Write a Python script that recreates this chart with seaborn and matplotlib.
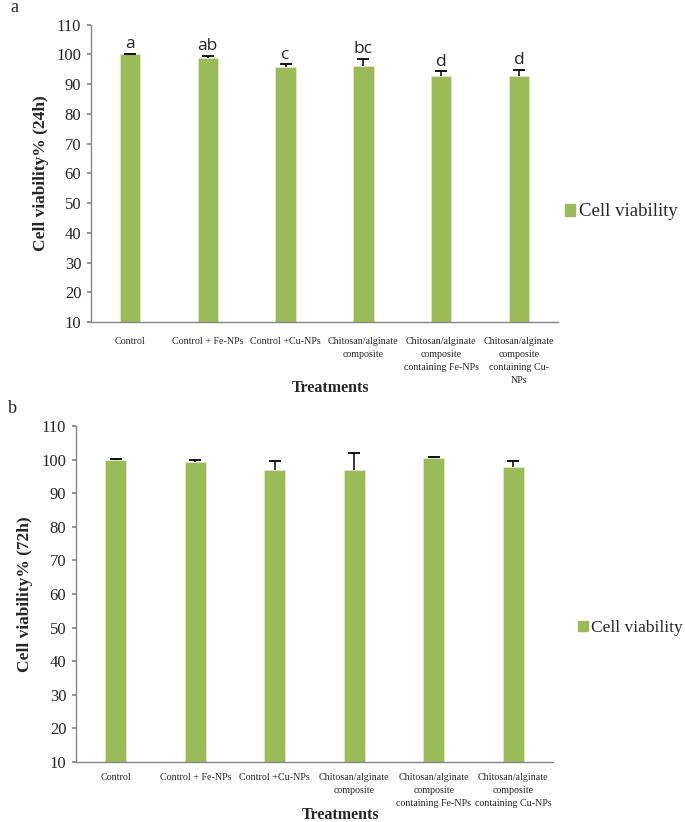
import matplotlib
matplotlib.use("Agg")
import matplotlib.pyplot as plt
import matplotlib.patches as mpatches
import numpy as np
import pandas as pd
import seaborn as sns

sns.set_theme(style="white")
plt.rcParams["font.family"] = ["Liberation Serif", "DejaVu Serif"]

BAR_COLOR = "#9BBB59"
AXIS_COLOR = "#868686"

# panel a (24 h)
labels_a = [
    "Control", "Control + Fe-NPs", "Control +Cu-NPs",
    "Chitosan/alginate\ncomposite",
    "Chitosan/alginate\ncomposite\ncontaining Fe-NPs",
    "Chitosan/alginate\ncomposite\ncontaining Cu-\nNPs",
]
viab_24h = [100.0, 98.9, 95.8, 96.1, 92.9, 92.6]
err_24h = [0.2, 0.7, 0.9, 2.5, 1.4, 2.3]
letters_24h = ["a", "ab", "c", "bc", "d", "d"]

# panel b (72 h)
labels_b = [
    "Control", "Control + Fe-NPs", "Control +Cu-NPs",
    "Chitosan/alginate\ncomposite",
    "Chitosan/alginate\ncomposite\ncontaining Fe-NPs",
    "Chitosan/alginate\ncomposite\ncontaining Cu-NPs",
]
viab_72h = [100.0, 99.4, 97.0, 96.8, 100.6, 97.8]
err_72h = [0.15, 0.6, 2.7, 5.1, 0.3, 1.8]

W, H = 685, 822


def px_axes(fig, left, right, top, bottom):
    return fig.add_axes([left / W, 1 - bottom / H, (right - left) / W, (bottom - top) / H])


def panel(ax, labels, vals, errs, ylabel, label_off):
    df = pd.DataFrame({"treatment": labels, "value": vals})
    sns.barplot(data=df, x="treatment", y="value", color=BAR_COLOR, saturation=1,
                width=0.26, errorbar=None, ax=ax, edgecolor="#dfeacb",
                linewidth=0.6, zorder=2)
    # plus-direction error bars only (Excel style)
    _, caps, _ = ax.errorbar(np.arange(len(vals)), vals,
                             yerr=[np.zeros(len(vals)), errs], fmt="none",
                             ecolor="black", elinewidth=1.1, capsize=4,
                             capthick=1.3, zorder=3)
    caps[0].remove()
    ax.set_ylim(10, 110)
    ax.set_yticks(range(10, 111, 10))
    ax.set_xlim(-0.5, len(vals) - 0.5)
    ax.set_xlabel("")
    ax.set_ylabel(ylabel, fontsize=12.5, fontweight="bold")
    ax.yaxis.set_label_coords(-0.09, 0.5)
    for s in ("top", "right"):
        ax.spines[s].set_visible(False)
    for s in ("left", "bottom"):
        ax.spines[s].set_color(AXIS_COLOR)
        ax.spines[s].set_linewidth(1.0)
    ax.tick_params(axis="y", which="both", left=True, length=3, color=AXIS_COLOR,
                   labelsize=12, pad=4)
    ax.tick_params(axis="x", bottom=False, labelbottom=False)
    # category labels, with Excel-like line spacing
    for i, lab in enumerate(labels):
        ax.annotate(lab, (i, 0), xycoords=ax.get_xaxis_transform(),
                    xytext=(0, label_off), textcoords="offset points", ha="center",
                    va="top", fontsize=7.2, linespacing=1.55, multialignment="center")
    ax.grid(False)


fig = plt.figure(figsize=(W / 100, H / 100), dpi=100)

ax_a = px_axes(fig, 91, 558, 24.7, 322)
panel(ax_a, labels_a, viab_24h, err_24h, "Cell viability% (24h)", -11)
for i, (v, e, t) in enumerate(zip(viab_24h, err_24h, letters_24h)):
    ax_a.annotate(t, (i, v + e), xytext=(0, 1), textcoords="offset points",
                  ha="center", va="bottom", fontsize=12.5,
                  family=["Open Sans", "DejaVu Sans"])

ax_b = px_axes(fig, 76, 553, 426, 762)
panel(ax_b, labels_b, viab_72h, err_72h, "Cell viability% (72h)", -8)

fig.text(331 / W, 1 - 388 / H, "Treatments", ha="center", va="center",
         fontsize=11.5, fontweight="bold")
fig.text(341 / W, 1 - 815 / H, "Treatments", ha="center", va="center",
         fontsize=11.5, fontweight="bold")
fig.text(10 / W, 1 - 8 / H, "a", ha="left", va="center", fontsize=13)
fig.text(8 / W, 1 - 408 / H, "b", ha="left", va="center", fontsize=13)

handle = mpatches.Patch(color=BAR_COLOR, label="Cell viability")
for x, y, fs in [(565, 212, 13.5), (578, 628, 12.5)]:
    fig.legend(handles=[handle], loc="center left", bbox_to_anchor=(x / W, 1 - y / H),
               frameon=False, fontsize=fs, handlelength=0.55, handleheight=0.55,
               handletextpad=0.2, borderpad=0, borderaxespad=0)

fig.savefig("out.png", dpi=100)
